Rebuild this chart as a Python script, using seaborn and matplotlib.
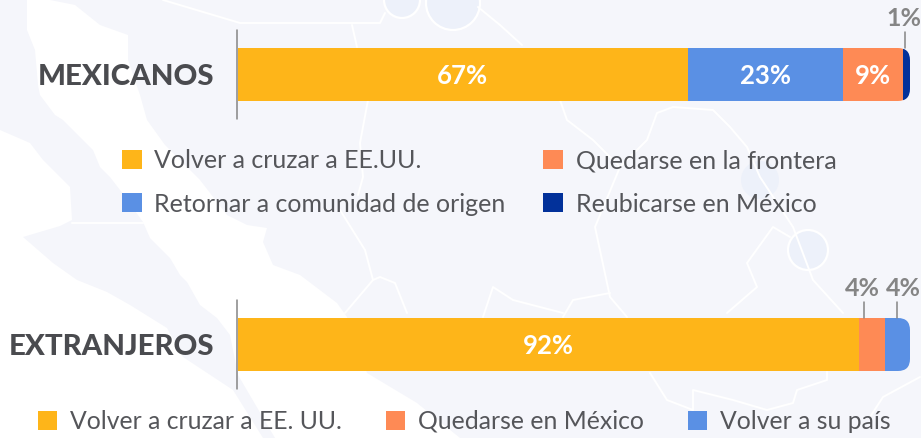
import matplotlib
matplotlib.use("Agg")
import matplotlib.pyplot as plt
from matplotlib.patches import FancyBboxPatch, Polygon, Patch, Circle
import seaborn as sns
import pandas as pd

sns.set_theme(style="white")
plt.rcParams['font.family'] = ['Lato', 'DejaVu Sans']

W, H = 921, 438
BG = "#f5f6fb"
GOLD, BLUE, ORANGE, NAVY = "#feb519", "#5a90e4", "#fe8a55", "#02319a"
TEXT = "#55565a"
GREY = "#858585"

group_names = ["MEXICANOS", "EXTRANJEROS"]
mex_labels = ["Volver a cruzar a EE.UU.", "Retornar a comunidad de origen", "Quedarse en la frontera", "Reubicarse en México"]
mex_values = [66.9, 23.1, 8.9, 1.1]
mex_shown = [67, 23, 9, 1]
mex_colors = [GOLD, BLUE, ORANGE, NAVY]
ext_labels = ["Volver a cruzar a EE. UU.", "Quedarse en México", "Volver a su país"]
ext_values = [92.4, 3.9, 3.7]
ext_shown = [92, 4, 4]
ext_colors = [GOLD, ORANGE, BLUE]

fig = plt.figure(figsize=(W / 100, H / 100), dpi=100, facecolor=BG)

# faint map backdrop (decorative only, in pixel coordinates)
bgax = fig.add_axes([0, 0, 1, 1], zorder=0)
bgax.set_xlim(0, W); bgax.set_ylim(H, 0); bgax.axis("off")
land_a = [(27, 0), (27, 30), (35, 50), (38, 85), (40, 95), (55, 115), (63, 120), (93, 150), (100, 167), (110, 177),
          (120, 190), (143, 222), (150, 238), (170, 258), (180, 275), (187, 282), (200, 305), (217, 318), (230, 335),
          (238, 375), (275, 438), (460, 438), (417, 403), (367, 373), (347, 317), (337, 303), (300, 275), (273, 265),
          (263, 242), (267, 228), (247, 225), (227, 215), (200, 180), (165, 145), (147, 120), (140, 95), (128, 60),
          (128, 35), (100, 25), (75, 5), (50, 0)]
land_b = [(0, 130), (30, 143), (43, 160), (70, 187), (72, 220), (60, 226), (23, 237), (53, 263), (77, 280), (107, 292),
          (130, 305), (167, 328), (183, 357), (233, 390), (263, 438), (0, 438)]
for poly in (land_a, land_b):
    bgax.add_patch(Polygon(poly, closed=True, fc="white", ec="none"))
for c, r, lw in [((402, 0), 18, 1.6), ((453, 3), 27, 1.6), ((760, 180), 19, 0), ((808, 250), 20, 1.6)]:
    bgax.add_patch(Circle(c, r, fc="#edf1fa", ec="white", lw=lw))
borders = [
    [(163, 0), (240, 23), (340, 23), (380, 23), (385, 13)],
    [(352, 25), (357, 47)],
    [(478, 7), (500, 25), (522, 45)],
    [(72, 223), (143, 223)],
    [(368, 100), (360, 143), (363, 177), (358, 195)],
    [(340, 210), (365, 250), (373, 280), (345, 313)],
    [(373, 280), (380, 277), (395, 283), (407, 313)],
    [(560, 100), (567, 120), (593, 140), (620, 167), (595, 227), (610, 297), (627, 317)],
    [(610, 293), (573, 300), (563, 317)],
    [(483, 317), (493, 287), (513, 300), (563, 313)],
    [(620, 167), (647, 140), (657, 113), (673, 107), (713, 110), (730, 127), (747, 147), (760, 177), (793, 227), (813, 280), (843, 313)],
    [(727, 313), (757, 287), (747, 263), (773, 227), (790, 237)],
    [(650, 373), (667, 400), (693, 410), (693, 390), (733, 400), (767, 410), (793, 403), (797, 390), (827, 380), (827, 372)],
    [(920, 377), (883, 397), (870, 417)],
]
for pts in borders:
    bgax.plot(*zip(*pts), color="white", lw=1.4, solid_capstyle="round")

ax = fig.add_axes([238 / W, 0, 672 / W, 1], zorder=1)
ax.patch.set_alpha(0)

rows = []
for grp, labs, vals, shown, cols in [(group_names[0], mex_labels, mex_values, mex_shown, mex_colors),
                                     (group_names[1], ext_labels, ext_values, ext_shown, ext_colors)]:
    start = 0
    for l, v, s, c in zip(labs, vals, shown, cols):
        rows.append(dict(group=grp, label=l, value=v, shown=s, left=start, color=c))
        start += v
df = pd.DataFrame(rows)

bar_h = 53 / 270
clips = {}
for i, g in enumerate(group_names):
    clip = FancyBboxPatch((-5, i - bar_h / 2), 105, bar_h, boxstyle="round,pad=0,rounding_size=1.8",
                          mutation_aspect=(1 / 270) / (100 / 672), transform=ax.transData, fc="none", ec="none")
    ax.add_patch(clip)
    clips[g] = clip

for _, r in df.iterrows():
    pos = group_names.index(r["group"])
    before = len(ax.patches)
    sns.barplot(x=[r["value"]], y=[pos], left=[r["left"]], orient="h", native_scale=True,
                color=r["color"], saturation=1, width=bar_h, ax=ax, linewidth=0)
    for p in ax.patches[before:]:
        p.set_clip_path(clips[r["group"]])

ax.set_xlim(0, 100)
ax.set_ylim(1 + (438 - 344.5) / 270, -74.5 / 270)
ax.axis("off")

# callout positions for the labels that do not fit inside the bars: text x, leader x
callouts = {("MEXICANOS", "Reubicarse en México"): (99.1, 99.2),
            ("EXTRANJEROS", "Quedarse en México"): (92.9, 93.15),
            ("EXTRANJEROS", "Volver a su país"): (99.0, 98.07)}

for _, r in df.iterrows():
    pos = group_names.index(r["group"])
    key = (r["group"], r["label"])
    if key in callouts:
        tx, lx = callouts[key]
        ax.text(tx, pos - 0.178, f'{r["shown"]}%', ha="center", va="baseline", color=GREY,
                fontsize=18, fontweight="bold", clip_on=False)
        ax.plot([lx, lx], [pos - 0.157, pos - bar_h / 2], color=GREY, lw=1.1)
    else:
        ax.text(r["left"] + r["value"] / 2, pos, f'{r["shown"]}%', ha="center", va="center_baseline", color="white",
                fontsize=18.5, fontweight="bold")

# group labels and axis rules
for i, g in enumerate(group_names):
    ax.text(-3.6, i + 0.011, g, ha="right", va="center", color="#4a4b4f", fontsize=21.2, fontweight=900)
    ax.plot([-0.1, -0.1], [i - 0.165, i + 0.165], color=GREY, lw=1.1, clip_on=False)

def legend(labels, colors, ncol, x, y, spacing, size):
    hs = [Patch(fc=c, ec="none", label=l) for l, c in zip(labels, colors)]
    return fig.legend(handles=hs, ncol=ncol, frameon=False, loc="upper left", bbox_to_anchor=(x / W, 1 - y / H),
                      bbox_transform=fig.transFigure, fontsize=size, labelcolor=TEXT, handlelength=0.78, handleheight=0.78,
                      handletextpad=0.52, columnspacing=spacing, labelspacing=0.82, borderpad=0, borderaxespad=0)

legend(mex_labels, mex_colors, 2, 122, 149, 1.5, 18)
legend(ext_labels, ext_colors, 3, 38, 410, 1.78, 17.8)

fig.savefig("out.png", dpi=100, facecolor=BG)
